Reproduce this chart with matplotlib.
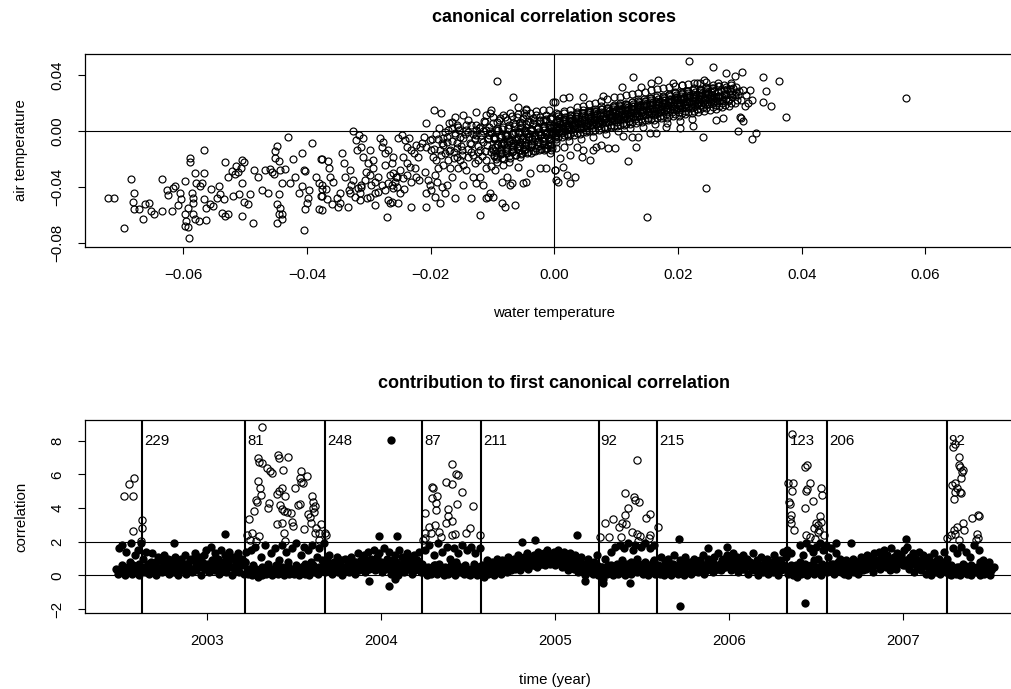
import matplotlib.pyplot as plt
import numpy as np

plt.rcParams['font.family'] = ['Liberation Sans', 'DejaVu Sans']

# canonical scores in units of 1e-4: (water temperature, air temperature)
scores_far_left = [
    (-722, -478), (-712, -478), (-696, -695), (-685, -343), (-680, -445), (-681, -505), (-680, -560),
    (-671, -555), (-662, -519), (-655, -514), (-666, -631), (-652, -572), (-647, -593),
    (-634, -343), (-634, -572), (-627, -422), (-625, -457), (-619, -572),
    (-616, -405), (-614, -393), (-608, -528), (-604, -488), (-606, -445),
    (-598, -357), (-598, -593), (-595, -645), (-592, -550), (-590, -764), (-593, -688), (-598, -681),
    (-589, -190), (-589, -219), (-581, -298), (-580, -369), (-586, -445), (-585, -512), (-584, -481),
    (-585, -595), (-581, -631), (-574, -643), (-567, -298), (-566, -133), (-564, -638), (-569, -369),
    (-573, -393), (-566, -488), (-563, -547), (-557, -524), (-555, -417),
    (-552, -535), (-546, -476), (-543, -393), (-541, -452), (-537, -583), (-533, -607), (-528, -595),
    (-535, -488), (-532, -219), (-528, -331), (-522, -288), (-519, -464), (-517, -305), (-514, -248),
    (-511, -295), (-507, -264), (-505, -205), (-502, -224),
    (-505, -369), (-510, -452), (-505, -607), (-502, -505), (-495, -521), (-487, -654), (-492, -452),
    (-485, -276), (-479, -328), (-473, -422), (-468, -276), (-463, -445), (-459, -271), (-457, -295),
    (-454, -305), (-451, -143), (-448, -107), (-451, -190), (-446, -214), (-443, -276), (-440, -369),
    (-446, -452), (-448, -524), (-443, -547), (-446, -595), (-440, -631), (-448, -655), (-440, -590),
    (-435, -271), (-430, -45), (-423, -200), (-428, -369), (-419, -328), (-413, -445), (-408, -159),
    (-405, -276), (-403, -288), (-405, -707), (-408, -393), (-403, -559), (-400, -512), (-398, -476),
    (-397, -421), (-392, -83), (-386, -328), (-381, -369), (-377, -200), (-375, -417), (-381, -559),
    (-378, -464),
]
scores_left = [
    (-376, -202), (-366, -212), (-364, -267), (-376, -385), (-369, -417), (-363, -326), (-358, -362),
    (-375, -464), (-376, -564), (-367, -488), (-359, -521), (-352, -481), (-347, -445), (-350, -540),
    (-346, -512), (-340, -231), (-343, -155), (-333, -540), (-339, -326), (-331, -278), (-328, -385),
    (-330, -445), (-326, -350), (-332, -421), (-325, 2), (-321, -64), (-319, -136), (-316, -29),
    (-309, -52), (-313, -112),
    (-309, -183), (-301, -231), (-298, -136), (-294, -207), (-293, -267), (-296, -385), (-290, -362),
    (-285, -326), (-282, -52), (-279, -112), (-277, -76), (-274, -159), (-269, -136), (-263, -231),
    (-261, -183), (-266, -314), (-261, -302), (-256, -326), (-263, -385), (-255, -397), (-250, -278),
    (-252, -52), (-247, -29), (-242, -64), (-238, -112), (-235, -52), (-231, -136), (-227, -159),
    (-223, -100), (-250, -445), (-290, -445), (-285, -433), (-279, -385), (-274, -421), (-298, -469),
    (-303, -481), (-314, -493), (-312, -397), (-290, -528), (-269, -493), (-263, -505), (-252, -517),
    (-231, -540), (-243, -417), (-234, -255), (-226, -267), (-220, -183), (-218, -112), (-244, -183),
    (-239, -231), (-271, -612), (-274, -243), (-261, -409), (-269, -374), (-255, -326), (-258, -362),
    (-245, -338), (-238, -314), (-231, -362), (-223, -326), (-219, -350), (-266, -517), (-305, -290),
    (-298, -314), (-306, -350), (-312, -385), (-317, -409), (-323, -469), (-314, -445),
    (-214, -88), (-211, -45), (-208, 60), (-207, -112), (-201, -64), (-199, -136), (-195, 150),
    (-196, -183), (-192, -207), (-188, -267), (-184, 131), (-185, -136), (-182, -88), (-180, -52),
    (-177, -159), (-174, -40), (-172, -207), (-169, -267), (-166, 67), (-165, 19), (-161, -17),
    (-158, -88), (-162, -148), (-166, -326), (-174, -385), (-177, -445), (-185, -517), (-199, -421),
    (-204, -350), (-208, -445), (-209, -290), (-201, -385), (-190, -362), (-193, -469), (-182, -397),
    (-207, -540), (-193, -314), (-161, 102), (-158, 43), (-154, 7), (-153, -40), (-150, -136),
    (-147, 114), (-142, 43), (-139, -5), (-137, -88), (-134, -148), (-139, -183), (-147, -243),
    (-142, -278), (-126, 138), (-128, -52), (-126, 7), (-120, 31), (-118, -29), (-115, -76),
    (-120, -136), (-123, -207), (-128, -231), (-131, -326), (-126, -374), (-134, -481), (-120, -326),
    (-115, -385), (-110, 114), (-112, 67), (-110, 7), (-107, -52), (-104, 126), (-103, 150),
    (-110, -207), (-110, -267), (-107, -469), (-120, -600), (-104, -445), (-161, -481), (-147, -385),
    (-153, -207), (-155, -267), (-169, -136), (-158, -183), (-172, 7), (-180, -243), (-126, -29),
    (-134, 43),
    (-198, -60), (-192, -20), (-186, 20), (-180, -100), (-176, -10), (-171, 60), (-166, -70),
    (-160, -30), (-156, 30), (-151, -110), (-147, -50), (-143, 10), (-139, 80), (-135, -90),
    (-131, -20), (-127, 40), (-123, -150), (-119, -60), (-116, 0), (-113, 70), (-109, -100),
    (-106, -30), (-105, 30), (-195, -130), (-183, -170), (-170, -140), (-163, -190), (-150, -170),
    (-140, -130), (-132, -170), (-124, -110), (-117, -180), (-112, -140), (-188, -60), (-174, -80),
    (-158, -120), (-145, -20), (-129, -60), (-121, 20), (-108, -60),
]
scores_mid = [
    (-93, 359), (-67, 245), (-58, 174), (-45, 155), (-46, 148),
    (-99, 102), (-93, 67), (-88, 90), (-83, 114), (-77, 78), (-72, 126), (-67, 55), (-61, 102),
    (-56, 67), (-50, 90), (-45, 114), (-40, 67), (-34, 90), (-29, 114), (-23, 102), (-18, 78),
    (-13, 114), (-7, 90), (-2, 209), (3, 126),
    (-102, -17), (-96, -52), (-91, 7), (-85, -88), (-80, -29), (-75, 19), (-69, -64), (-64, -5),
    (-58, -40), (-53, 31), (-48, -76), (-42, -17), (-37, 7), (-32, -52), (-26, 31), (-21, -29),
    (-16, 7), (-10, -40), (-5, 19), (1, -17),
    (-99, -136), (-92, -183), (-85, -159), (-78, -124), (-73, -219), (-68, -148), (-61, -112),
    (-56, -183), (-49, -136), (-42, -100), (-37, -159), (-30, -124), (-23, -88), (-17, -136),
    (-10, -100), (-5, -136), (2, -76),
    (-96, -278), (-83, -243), (-85, -362), (-77, -326), (-72, -385), (-84, -517), (-80, -540),
    (-64, -528), (-69, -374), (-50, -374), (-45, -362), (-40, -302), (-23, -267), (-13, -267),
    (1, -278), (3, -350), (-110, -481), (-99, -469), (-58, -255),
    (-103, -250), (-98, -180), (-101, -120), (-97, -60), (-104, 0), (-99, 60), (-102, -150),
    (-92, -220), (-88, -160), (-91, -100), (-87, -40), (-93, 20), (-89, 80), (-86, -130),
    (-82, -200), (-78, -140), (-81, -90), (-77, -30), (-83, 30), (-79, 100), (-76, -60),
    (-72, -190), (-68, -130), (-71, -70), (-67, -20), (-73, 40), (-69, 110), (-66, -100),
    (-62, -170), (-58, -110), (-61, -60), (-57, -10), (-63, 50), (-59, 120), (-56, -80),
    (-52, -160), (-48, -100), (-51, -50), (-47, 0), (-53, 60), (-49, 125), (-46, -20),
    (-42, -150), (-38, -90), (-41, -40), (-37, 10), (-43, 70), (-39, 130), (-36, -60),
    (-32, -140), (-28, -80), (-31, -30), (-27, 20), (-33, 75), (-29, 140), (-26, -10),
    (-22, -130), (-18, -70), (-21, -20), (-17, 25), (-23, 80), (-19, 150), (-16, -50),
    (-12, -120), (-8, -60), (-11, -10), (-7, 30), (-13, 85), (-9, 150), (-6, 0),
    (-94, -200), (-96, -145), (-93, -90), (-97, -40), (-95, 5),
    (-84, -191), (-86, -136), (-83, -81), (-87, -31), (-85, 14),
    (-74, -182), (-76, -127), (-73, -72), (-77, -22), (-75, 23),
    (-64, -173), (-66, -118), (-63, -63), (-67, -13), (-65, 32),
    (-54, -164), (-56, -109), (-53, -54), (-57, -4), (-55, 41),
    (-44, -155), (-46, -100), (-43, -45), (-47, 5), (-45, 50),
    (-34, -146), (-36, -91), (-33, -36), (-37, 14), (-35, 59),
    (-24, -137), (-26, -82), (-23, -27), (-27, 23), (-25, 68),
    (-14, -128), (-16, -73), (-13, -18), (-17, 32), (-15, 77),
    (-4, -119), (-6, -64), (-3, -9), (-7, 41), (-5, 86),
    (-97, -172), (-96, -112), (-98, -52), (-87, -163), (-86, -103), (-88, -43),
    (-77, -154), (-76, -94), (-78, -34), (-67, -145), (-66, -85), (-68, -25),
    (-57, -136), (-56, -76), (-58, -16), (-47, -127), (-46, -67), (-48, -7),
    (-37, -118), (-36, -58), (-38, 2), (-27, -109), (-26, -49), (-28, 11),
    (-17, -100), (-16, -40), (-18, 20), (-7, -91), (-6, -31), (-8, 29),
]
scores_core = [
    (2, -60), (-3, -20), (4, 10), (-1, 40), (5, 70), (-4, 100), (1, -40), (-2, 25),
    (12, -45), (7, -10), (14, 20), (9, 50), (15, 85), (6, 120), (11, 0), (8, 65),
    (22, -35), (17, 0), (24, 30), (19, 60), (25, 95), (16, 140), (21, 15), (18, 75), (23, -70),
    (32, -30), (27, 10), (34, 45), (29, 80), (35, 110), (26, 150), (31, 25), (28, 60),
    (42, -20), (37, 20), (44, 55), (39, 90), (45, 125), (36, 170), (41, 35), (38, 70), (43, -60),
    (52, -10), (47, 30), (54, 60), (49, 100), (55, 135), (46, 180), (51, 45), (48, 80),
    (62, 0), (57, 40), (64, 75), (59, 110), (65, 145), (56, 190), (61, 55), (58, 95), (63, -40),
    (72, 10), (67, 50), (74, 85), (69, 120), (75, 155), (66, 200), (71, 65), (68, 100),
    (82, 15), (77, 55), (84, 95), (79, 130), (85, 165), (76, 215), (81, 75), (78, 110), (83, -20),
    (92, 25), (87, 65), (94, 100), (89, 140), (95, 175), (86, 225), (91, 85), (88, 120),
    (102, 35), (97, 75), (104, 110), (99, 150), (105, 185), (96, 240), (101, 95), (98, 130), (103, 0),
    (112, 40), (107, 85), (114, 120), (109, 160), (115, 195), (106, 245), (111, 100), (108, 140),
    (122, 50), (117, 90), (124, 130), (119, 170), (125, 205), (116, 255), (121, 110), (118, 150), (123, 20),
    (132, 55), (127, 100), (134, 140), (129, 175), (135, 215), (126, 265), (131, 120), (128, 160),
    (142, 65), (137, 105), (144, 150), (139, 185), (145, 225), (136, 270), (141, 125), (138, 170), (143, 30),
    (152, 75), (147, 115), (154, 155), (149, 195), (155, 235), (146, 280), (151, 135), (148, 175),
    (162, 80), (157, 125), (164, 165), (159, 205), (165, 245), (156, 290), (161, 145), (158, 185), (163, 50),
    (172, 90), (167, 130), (174, 175), (169, 210), (175, 250), (166, 300), (171, 150), (168, 195),
    (182, 95), (177, 140), (184, 185), (179, 220), (185, 260), (176, 305), (181, 160), (178, 200), (183, 60),
    (192, 105), (187, 150), (194, 190), (189, 230), (195, 270), (186, 315), (191, 170), (188, 210),
    (202, 110), (197, 155), (204, 200), (199, 240), (205, 275), (196, 320), (201, 175), (198, 220), (203, 70),
    (212, 120), (207, 165), (214, 210), (209, 245), (215, 285), (206, 330), (211, 185), (208, 230),
    (222, 125), (217, 170), (224, 215), (219, 255), (225, 290), (216, 335), (221, 195), (218, 240), (223, 85),
    (232, 135), (227, 180), (234, 225), (229, 260), (235, 300), (226, 340), (231, 200), (228, 245),
    (242, 140), (237, 185), (244, 230), (239, 270), (245, 305), (236, 345), (241, 210), (238, 255),
    (252, 150), (247, 195), (254, 240), (249, 280), (255, 310), (246, 350), (251, 220), (248, 265),
    (262, 160), (257, 205), (264, 250), (259, 285), (265, 320), (256, 230),
    (272, 170), (267, 215), (274, 255), (269, 295), (275, 325), (266, 240),
    (282, 180), (277, 225), (284, 265), (279, 300), (285, 330),
    (292, 200), (287, 240), (294, 280), (289, 310),
    (302, 220), (297, 260), (305, 295),
    (6, -41), (3, -6), (8, 29), (4, 64), (7, 94), (2, 14), (5, 79),
    (16, -32), (13, 3), (18, 38), (14, 73), (17, 103), (12, 23), (15, 88),
    (26, -24), (23, 11), (28, 46), (24, 81), (27, 111), (22, 31), (25, 96),
    (36, -15), (33, 20), (38, 55), (34, 90), (37, 120), (32, 40), (35, 105),
    (46, -7), (43, 28), (48, 63), (44, 98), (47, 128), (42, 48), (45, 113),
    (56, 2), (53, 37), (58, 72), (54, 107), (57, 137), (52, 57), (55, 122),
    (66, 10), (63, 45), (68, 80), (64, 115), (67, 145), (62, 65), (65, 130),
    (76, 19), (73, 54), (78, 89), (74, 124), (77, 154), (72, 74), (75, 139),
    (86, 27), (83, 62), (88, 97), (84, 132), (87, 162), (82, 82), (85, 147),
    (96, 36), (93, 71), (98, 106), (94, 141), (97, 171), (92, 91), (95, 156),
    (106, 44), (103, 79), (108, 114), (104, 149), (107, 179), (102, 99), (105, 164),
    (116, 53), (113, 88), (118, 123), (114, 158), (117, 188), (112, 108), (115, 173),
    (126, 61), (123, 96), (128, 131), (124, 166), (127, 196), (122, 116), (125, 181),
    (136, 70), (133, 105), (138, 140), (134, 175), (137, 205), (132, 125), (135, 190),
    (146, 78), (143, 113), (148, 148), (144, 183), (147, 213), (142, 133), (145, 198),
    (156, 87), (153, 122), (158, 157), (154, 192), (157, 222), (152, 142), (155, 207),
    (166, 95), (163, 130), (168, 165), (164, 200), (167, 230), (162, 150), (165, 215),
    (176, 104), (173, 139), (178, 174), (174, 209), (177, 239), (172, 159), (175, 224),
    (186, 112), (183, 147), (188, 182), (184, 217), (187, 247), (182, 167), (185, 232),
    (196, 121), (193, 156), (198, 191), (194, 226), (197, 256), (192, 176), (195, 241),
    (206, 129), (203, 164), (208, 199), (204, 234), (207, 264), (202, 184), (205, 249),
    (216, 138), (213, 173), (218, 208), (214, 243), (217, 273), (212, 193), (215, 258),
    (226, 146), (223, 181), (228, 216), (224, 251), (227, 281), (222, 201), (225, 266),
    (236, 155), (233, 190), (238, 225), (234, 260), (237, 290), (232, 210), (235, 275),
    (246, 163), (243, 198), (248, 233), (244, 268), (247, 298), (242, 218), (245, 283),
    (256, 172), (253, 207), (258, 242), (254, 277), (257, 307), (252, 227), (255, 292),
    (266, 180), (263, 215), (268, 250), (264, 285), (262, 235),
    (276, 189), (273, 224), (278, 259), (274, 294), (272, 244),
    (286, 197), (283, 232), (288, 267), (284, 302),
    (296, 220), (293, 255), (298, 285),
    (1, -32), (4, 33), (6, 108), (11, -14), (14, 56), (16, 126), (21, -20), (24, 40), (26, 115),
    (31, -7), (34, 58), (36, 133), (41, 12), (44, 82), (46, 152), (51, 5), (54, 65), (56, 140),
    (61, 19), (64, 84), (66, 159), (71, 37), (74, 107), (76, 177), (81, 31), (84, 91), (86, 166),
    (91, 44), (94, 109), (96, 184), (101, 63), (104, 133), (106, 203), (111, 56), (114, 116),
    (116, 191), (121, 70), (124, 135), (126, 210), (131, 88), (134, 158), (136, 228), (141, 82),
    (144, 142), (146, 217), (151, 95), (154, 160), (156, 235), (161, 114), (164, 184), (166, 254),
    (171, 107), (174, 167), (176, 242), (181, 121), (184, 186), (186, 261), (191, 139), (194, 209),
    (196, 279), (201, 133), (204, 193), (206, 268), (211, 146), (214, 211), (216, 286), (221, 165),
    (224, 235), (226, 305), (231, 158), (234, 218), (236, 293), (241, 172), (244, 237), (246, 312),
    (251, 190), (254, 260), (256, 330), (261, 184), (264, 244), (266, 319), (271, 197), (274, 262),
    (281, 216), (284, 286),
]
scores_right = [
    (218, 500), (257, 455), (277, 417), (292, 393), (304, 424), (337, 388), (364, 360), (375, 102),
    (343, 283), (337, 207), (351, 179), (127, 383), (141, 316), (168, 364), (246, -409), (150, -617),
    (120, -214), (132, -112), (240, -40), (297, 0), (319, -60), (326, -12), (302, 90), (305, 74),
    (301, 102), (308, 179), (313, 198), (320, 221), (316, 293), (310, 257), (286, 340), (294, 317),
    (278, 312), (265, 345), (242, 364), (230, 340), (206, 328), (192, 340), (157, 345), (109, 317),
    (79, 250), (47, 245), (24, 245), (14, 233), (1, 209),
    (1, -278), (6, -362), (20, -314), (26, -369), (33, -331), (14, -255), (15, -112), (9, -195),
    (25, -171), (44, -183), (57, -207), (47, -136), (36, -112), (63, -136), (68, -112), (76, -100),
    (87, -124), (98, -124), (111, -36), (125, -45), (136, -40), (154, -17), (165, -12), (181, 26),
    (203, 19), (224, 36), (262, 78), (273, 90), (-5, -100), (-7, -159), (3, -124),
    (568, 238),
]

# contribution series: one value every third day from mid 2002
band_start = 2002.48
band_step = 3 / 365.0
band_vals = [
    0.4, 0.1, 1.6, 0.2, 1.8, 0.3, 0.0, 1.4, 0.5, 0.2, 1.9, 0.1, 0.6, 1.2, 0.3, 1.5, 0.0, 1.9, 0.3, 1.0,
    0.2, 1.4, 0.5, 0.1, 0.8, 1.3, 0.2, 0.6, 0.0, 1.1, 0.4, 0.9, 0.2, 1.2, 0.3, 0.7, 1.0, 0.1, 0.5, 0.9,
    0.2, 1.1, 0.6, 0.0, 0.8, 1.0, 0.3, 0.5, 1.2, 0.1, 0.7, 0.4, 1.0, 0.2, 0.9, 1.3, 0.3, 0.6, 1.1, 0.0,
    0.8,
    1.2, 0.4, 1.5, 0.7, 0.2, 1.7, 0.9, 0.3, 1.3, 0.6, 1.0, 0.1, 1.5, 0.8, 0.4, 1.2, 0.2, 0.9, 1.4, 0.5,
    0.0, 1.1, 0.3, 0.7, 1.3, 0.2, 0.6, 1.0, 0.1, 0.8, 1.4, 0.1, 0.3, 1.5, 0.0, 0.2, 1.7, 0.4, -0.1, 0.2,
    1.1, 0.0, 0.3, 1.8, 0.1, 0.5, 0.2, 1.3, 0.0, 0.4, 1.6, 0.2, 0.1, 0.9, 0.3, 1.8, 0.0, 0.2, 1.4, 0.5,
    0.1,
    0.3, 1.6, 0.1, 0.4, 1.9, 0.2, 0.0, 1.2, 0.5, 1.7, 0.1, 0.3, 1.5, 0.0, 0.8, 1.8, 0.2, 0.4, 1.1, 0.1,
    1.6, 0.3, 0.9, 1.9, 0.2, 1.0, 0.3, 1.2, 0.5, 0.1, 0.8, 0.4, 1.1, 0.2, 0.6, 0.9, 0.0, 0.5, 1.0, 0.3,
    0.7, 0.2, 1.1, 0.4, 0.8, 0.1, 0.6, 1.3, 0.3, 0.9, 0.5, 1.2, 0.2, 0.7, 1.4, 0.4, 1.0, 0.6, 1.5, 0.3,
    1.1,
    0.5, 1.3, 0.8, 0.2, 1.6, 0.4, 1.0, 0.6, 1.4, 0.1, 0.9, 0.3, 1.2, 0.7, 0.0, 1.5, 0.5, 1.1, 0.2, 0.8,
    1.3, 0.4, 0.6, 1.0, 0.1, 1.2, 0.3, 0.9, 0.5, 1.4, 0.2, 0.7, 0.2, 1.5, 0.0, 0.4, 1.8, 0.1, 0.3, 1.2,
    0.6, 0.1, 1.9, 0.2, 0.5, 1.4, 0.0, 0.3, 1.7, 0.1, 1.0, 0.4, 0.2, 1.6, 0.0, 0.6, 1.3, 0.2, 0.4, 1.8,
    0.1,
    0.3, 1.5, 0.1, 0.0, 1.7, 0.4, 0.2, 1.3, 0.0, 0.5, 1.6, 0.2, 0.6, -0.1, 0.4, 0.9, 0.1, 0.5, 0.2, 0.8,
    0.0, 0.6, 1.0, 0.3, 0.5, 0.1, 0.9, 0.4, 0.7, 0.2, 1.1, 0.5, 0.3, 0.8, 1.0, 0.4, 0.6, 1.2, 0.3, 0.9,
    0.5, 1.1, 0.7, 1.3, 0.4, 0.8, 1.0, 0.6, 1.2, 0.9, 0.5, 1.4, 0.7, 1.1, 0.8, 1.3, 0.6, 1.5, 1.0, 0.7,
    1.2,
    0.9, 1.4, 0.6, 1.1, 1.5, 0.8, 1.2, 0.5, 1.4, 0.9, 1.1, 0.3, 1.3, 0.7, 1.0, 0.4, 1.2, 0.6, 0.2, 0.9,
    1.1, 0.3, 0.7, 0.0, 0.5, 1.0, 0.2, 0.6, 0.1, 0.8, 0.3, 1.2, 0.0, 0.2, 0.5, -0.2, 0.3, 1.0, 0.1, 0.6,
    0.2, 1.4, 0.0, 0.4, 1.7, 0.3, 0.1, 1.8, 0.5, 0.2, 1.6, 0.0, 0.7, 1.9, 0.3, 0.1, 1.5, 0.4, 1.8, 0.2,
    0.6,
    0.3, 1.7, 0.1, 0.5, 1.9, 0.2, 0.0, 1.6, 0.4, 0.8, 1.8, 0.1, 0.3, 0.6, 0.1, 1.1, 0.3, 0.0, 0.8, 0.2,
    1.0, 0.4, 0.0, 0.7, 1.2, 0.2, 0.5, 0.1, 0.9, 0.3, 0.6, 0.0, 1.1, 0.4, 0.2, 0.8, 0.1, 0.5, 1.0, 0.3,
    0.7, 0.2, 0.9, 0.4, 1.2, 0.1, 0.6, 0.3, 1.0, 0.5, 0.8, 0.2, 1.1, 0.6, 0.4, 1.3, 0.7, 0.3, 1.0, 0.5,
    0.9,
    1.2, 0.6, 1.0, 0.3, 1.3, 0.8, 0.5, 1.1, 0.2, 0.9, 0.6, 1.2, 0.4, 0.7, 1.0, 0.1, 0.8, 0.5, 1.3, 0.3,
    0.6, 0.9, 0.0, 0.4, 1.1, 0.2, 0.7, 0.3, 1.0, 0.1, 0.5, 0.8, 0.2, 1.2, 0.4, 0.6, 0.0, 0.9, 0.3, 1.4,
    0.5, 1.1, 1.5, 0.1, 0.3, 1.3, 0.0, 0.2, 0.6, -0.1, 0.4, 1.8, 0.1, 1.2, 0.3, 1.9, 0.0, 0.5, 1.6, 0.2,
    1.4,
    0.1, 1.7, 0.3, 1.0, 1.9, 0.0, 1.5, 0.4, 1.8, 0.2, 1.1, 0.4, 1.6, 0.7, 0.1, 1.3, 0.3, 0.8, 1.0, 0.2,
    0.6, 0.1, 0.9, 0.4, 0.0, 0.7, 0.3, 1.0, 0.2, 0.5, 0.8, 0.1, 0.6, 1.1, 0.3, 0.9, 0.4, 1.2, 0.5, 0.7,
    1.0, 0.2, 1.3, 0.6, 0.9, 1.4, 0.4, 1.1, 0.8, 1.5, 0.5, 1.2, 0.9, 0.3, 1.6, 0.7, 1.1, 0.4, 1.3, 0.8,
    1.0,
    1.2, 0.6, 1.5, 0.9, 1.7, 0.4, 1.1, 0.7, 1.3, 0.2, 1.0, 0.5, 1.4, 0.8, 0.3, 1.2, 0.6, 0.1, 0.9, 1.1,
    0.4, 0.0, 0.7, 1.3, 0.2, 0.5, 1.0, 0.1, 0.8, 0.3, 1.4, 0.2, 1.0, 0.1, 0.4, 0.0, 1.6, 0.3, 0.1, 1.3,
    0.5, 0.0, 1.7, 0.2, 0.6, 1.4, 0.1, 0.3, 1.1, 0.0, 0.5, 1.8, 0.2, 0.4, 1.5, 0.0, 0.3, 0.9, 0.1, 0.6,
    0.2, 0.8, 0.0, 0.3,
]

# the days in between, one value every sixth day
mid_start = 2002.495
mid_step = 6 / 365.0
mid_vals = [
    0.3, 0.6, 0.2, 0.5, 0.8, 0.4, 0.2, 0.7, 0.3,
    0.5, 0.7, 0.4, 0.6, 0.8, 0.3, 0.5, 0.7, 0.6, 0.4, 0.8, 0.5, 0.3, 0.6, 0.7, 0.5, 0.9, 0.4, 0.6, 0.8,
    0.5, 0.7, 0.3, 0.6, 0.9, 0.5, 0.7, 0.4, 0.8, 0.6, 1.0, 0.5, 0.7, 0.9, 0.6, 0.8,
    0.4, 0.2, 0.6, 0.3, 0.1, 0.5, 0.3, 0.7, 0.2, 0.4, 0.6, 0.3, 0.5, 0.2, 0.8, 0.4, 0.3, 0.6, 0.2, 0.5,
    0.7, 0.3, 0.4, 0.6, 0.2, 0.5, 0.3, 0.7,
    0.5, 0.7, 0.4, 0.6, 0.8, 0.5, 0.3, 0.6, 0.7, 0.4, 0.8, 0.5, 0.6, 0.9, 0.4, 0.7, 0.5, 0.8, 0.6, 0.4,
    0.7, 0.9, 0.5, 0.6, 0.8, 0.4, 0.7, 0.5, 0.9, 0.6, 0.8, 0.5, 0.7, 0.6,
    0.3, 0.5, 0.2, 0.6, 0.4, 0.7, 0.3, 0.5, 0.2, 0.6, 0.4, 0.8, 0.3, 0.5, 0.6, 0.2, 0.4, 0.7, 0.3, 0.5,
    0.4, 0.6, 0.3, 0.5, 0.7, 0.4, 0.6, 0.5, 0.8, 0.4, 0.6, 0.7, 0.5, 0.9, 0.6, 0.8, 0.7, 1.0, 0.6, 0.8,
    0.9, 0.7, 1.1, 0.8, 1.0, 0.7, 0.9, 1.2, 0.8, 1.0, 0.7, 0.9, 0.6, 0.8, 0.5, 0.7, 0.4, 0.6, 0.5, 0.3,
    0.6,
    0.3, 0.5, 0.2, 0.4, 0.6, 0.3, 0.7, 0.5, 0.9, 0.4, 0.6, 0.8, 0.5, 1.0, 0.7, 0.4, 0.8, 0.6, 0.5, 0.9,
    0.4,
    0.5, 0.3, 0.6, 0.4, 0.7, 0.5, 0.3, 0.6, 0.4, 0.8, 0.5, 0.6, 0.4, 0.7, 0.5, 0.3, 0.6, 0.8, 0.5, 0.7,
    0.4, 0.6, 0.9, 0.5, 0.7, 0.6, 0.8, 0.5, 0.7, 0.4, 0.6, 0.8, 0.5, 0.7, 0.3, 0.6, 0.5, 0.8, 0.4, 0.7,
    0.6, 0.9, 0.5, 0.7, 0.4,
    0.3, 0.6, 0.2, 0.5, 0.8, 0.4, 0.7, 0.3, 0.6, 0.9, 0.5, 0.3, 0.7, 0.4,
    0.5, 0.7, 0.4, 0.6, 0.3, 0.5, 0.7, 0.4, 0.6, 0.5, 0.8, 0.4, 0.6, 0.7, 0.5, 0.9, 0.6, 0.8, 0.5, 0.7,
    1.0, 0.6, 0.8, 0.9, 0.7, 1.1, 0.8, 0.6, 0.9, 0.7, 1.0, 0.8, 0.6, 0.9, 0.7, 0.5, 0.8, 0.6, 0.9, 0.7,
    0.5, 0.8,
    0.4, 0.6, 0.2, 0.5, 0.3, 0.7, 0.4, 0.2, 0.6, 0.3, 0.5, 0.8, 0.4, 0.2, 0.6, 0.3, 0.5,
]

# filled points standing out of the band: (year, value)
spike_pts = [
    (2002.81, 1.92), (2003.103, 2.46), (2003.992, 2.36), (2004.094, 2.36), (2004.057, 8.03),
    (2003.935, -0.32), (2004.049, -0.62), (2004.083, -0.19), (2004.809, 2.0), (2004.885, 2.1),
    (2005.125, 2.4), (2005.712, 2.14), (2005.722, -1.83), (2006.441, -1.67), (2005.435, -0.48),
    (2005.176, -0.32), (2005.276, -0.48), (2007.021, 2.14), (2006.700, 1.94), (2006.619, 1.9),
    (2005.879, 1.64), (2005.990, 1.66),
]

# open circles: values above 2 inside the marked periods
open_pts = [
    (2002.523, 4.72), (2002.577, 4.72), (2002.554, 5.43), (2002.583, 5.81), (2002.575, 2.66),
    (2002.629, 3.27), (2002.629, 2.80), (2002.620, 2.05),
    (2003.318, 8.81), (2003.294, 6.96), (2003.300, 6.77), (2003.318, 6.68), (2003.347, 6.39),
    (2003.366, 6.20), (2003.376, 6.07), (2003.410, 7.16), (2003.413, 6.96), (2003.465, 7.02),
    (2003.437, 6.27), (2003.544, 6.21), (2003.534, 5.77), (2003.544, 5.58), (2003.552, 5.48),
    (2003.509, 5.22), (2003.297, 5.63), (2003.303, 5.18), (2003.312, 4.79), (2003.282, 4.48),
    (2003.291, 4.34), (2003.270, 3.83), (2003.245, 3.37), (2003.355, 4.28), (2003.351, 3.98),
    (2003.403, 4.82), (2003.416, 5.02), (2003.431, 5.18), (2003.451, 4.69), (2003.421, 4.20),
    (2003.434, 3.92), (2003.446, 3.82), (2003.459, 3.76), (2003.484, 3.72), (2003.526, 4.18),
    (2003.536, 4.22), (2003.605, 4.72), (2003.611, 4.34), (2003.622, 4.14), (2003.618, 3.79),
    (2003.583, 3.63), (2003.591, 3.49), (2003.611, 3.99), (2003.403, 3.03), (2003.441, 2.50),
    (2003.489, 3.16), (2003.498, 2.96), (2003.556, 2.74), (2003.624, 2.50), (2003.659, 3.03),
    (2003.644, 2.10), (2003.232, 2.40), (2003.261, 2.50), (2003.299, 2.36), (2003.247, 2.10),
    (2003.283, 2.04), (2003.448, 2.04), (2003.678, 2.50), (2003.686, 2.40), (2003.644, 2.50),
    (2003.575, 5.90), (2003.430, 3.10), (2003.600, 3.10), (2003.630, 2.80),
    (2004.410, 6.61), (2004.376, 5.54), (2004.410, 5.43), (2004.435, 6.00), (2004.443, 5.95),
    (2004.295, 5.28), (2004.301, 5.22), (2004.295, 4.58), (2004.324, 4.72), (2004.320, 4.30),
    (2004.318, 3.90), (2004.253, 3.69), (2004.386, 3.95), (2004.388, 3.53), (2004.407, 3.24),
    (2004.374, 3.10), (2004.440, 4.22), (2004.469, 4.94), (2004.530, 4.14), (2004.276, 2.90),
    (2004.314, 3.00), (2004.333, 2.60), (2004.286, 2.50), (2004.253, 2.50), (2004.253, 2.20),
    (2004.245, 2.10), (2004.345, 2.30), (2004.412, 2.40), (2004.488, 2.50), (2004.513, 2.84),
    (2004.570, 2.40), (2004.424, 2.45),
    (2005.470, 6.86), (2005.406, 4.92), (2005.454, 4.64), (2005.464, 4.49), (2005.483, 4.35),
    (2005.421, 4.00), (2005.406, 3.59), (2005.335, 3.35), (2005.291, 3.09), (2005.387, 3.09),
    (2005.368, 2.89), (2005.410, 3.03), (2005.550, 3.64), (2005.527, 3.39), (2005.594, 2.86),
    (2005.310, 2.30), (2005.260, 2.26), (2005.381, 2.30), (2005.444, 2.60), (2005.470, 2.44),
    (2005.492, 2.36), (2005.477, 2.06), (2005.540, 2.24), (2005.550, 2.40),
    (2006.364, 8.39), (2006.441, 6.45), (2006.450, 6.57), (2006.340, 5.48), (2006.371, 5.48),
    (2006.361, 5.02), (2006.465, 5.48), (2006.446, 5.02), (2006.450, 5.14), (2006.530, 5.22),
    (2006.534, 4.78), (2006.346, 4.34), (2006.350, 4.22), (2006.356, 3.59), (2006.352, 3.35),
    (2006.356, 3.09), (2006.375, 2.70), (2006.484, 4.42), (2006.436, 4.00), (2006.526, 3.50),
    (2006.501, 3.10), (2006.492, 2.79), (2006.520, 2.70), (2006.530, 3.16), (2006.549, 2.40),
    (2006.446, 2.40), (2006.465, 2.30), (2006.497, 2.16), (2006.511, 2.99), (2006.515, 2.60),
    (2007.303, 7.80), (2007.290, 7.62), (2007.322, 7.06), (2007.332, 6.46), (2007.322, 6.56),
    (2007.341, 6.16), (2007.345, 6.26), (2007.337, 5.77), (2007.285, 5.38), (2007.300, 5.48),
    (2007.314, 5.22), (2007.337, 4.88), (2007.329, 4.94), (2007.303, 4.94), (2007.295, 4.54),
    (2007.398, 3.39), (2007.433, 3.59), (2007.441, 3.55), (2007.345, 3.09), (2007.314, 2.90),
    (2007.295, 2.70), (2007.351, 2.70), (2007.257, 2.20), (2007.276, 2.40), (2007.303, 2.44),
    (2007.322, 2.10), (2007.427, 2.46), (2007.421, 2.10), (2007.431, 2.24),
]

# limits of the marked periods, day of year
cut_years = [2002, 2003, 2003, 2004, 2004, 2005, 2005, 2006, 2006, 2007]
cut_days = [229, 81, 248, 87, 211, 92, 215, 123, 206, 92]

W, H = 1011, 689
fig = plt.figure(figsize=(W / 100, H / 100), dpi=100)
fs = 10.8
tick_kw = dict(length=5, width=0.8, labelsize=fs, pad=10, direction='out')

def minus(s):
    return s.replace('-', '\u2212')

# ---- top: canonical correlation scores ----
ax1 = fig.add_axes([85 / W, 1 - 247 / H, 938.6 / W, 193 / H])
sc = np.array(scores_far_left + scores_left + scores_mid + scores_core + scores_right) / 1e4
ax1.plot(sc[:, 0], sc[:, 1], 'o', ms=5, mfc='none', mec='black', mew=0.85)
ax1.axhline(0, color='black', lw=0.8)
ax1.axvline(0, color='black', lw=0.8)
ax1.set_xlim(-0.0759, 0.0759)
ax1.set_ylim(-0.0829, 0.0550)
xt = [-0.06, -0.04, -0.02, 0.0, 0.02, 0.04, 0.06]
ax1.set_xticks(xt)
ax1.set_xticklabels([minus('%.2f' % v) for v in xt])
yt = [-0.08, -0.04, 0.0, 0.04]
ax1.set_yticks(yt)
ax1.set_yticklabels([minus('%.2f' % v) for v in yt])
ax1.tick_params(**tick_kw)
ax1.tick_params(axis='y', labelrotation=90)
for lbl in ax1.get_yticklabels():
    lbl.set_va('center')

# ---- bottom: contribution to first canonical correlation ----
ax2 = fig.add_axes([85 / W, 1 - 613 / H, 943 / W, 193 / H])
t = band_start + band_step * np.arange(len(band_vals))
ax2.plot(t, band_vals, 'o', ms=6, color='black', mew=0)
tm = mid_start + mid_step * np.arange(len(mid_vals))
ax2.plot(tm, mid_vals, 'o', ms=6, color='black', mew=0)
sp = np.array(spike_pts)
ax2.plot(sp[:, 0], sp[:, 1], 'o', ms=6, color='black', mew=0)
op = np.array(open_pts)
ax2.plot(op[:, 0], op[:, 1], 'o', ms=5.2, mfc='none', mec='black', mew=0.85)
ax2.axhline(0, color='black', lw=0.8)
ax2.axhline(2, color='black', lw=0.8)
for yr, d in zip(cut_years, cut_days):
    xc = yr + d / 365.0
    ax2.axvline(xc, color='black', lw=1.5)
    ax2.annotate(str(d), (xc, 8), xytext=(1.5, 0), textcoords='offset points',
                 ha='left', va='center', fontsize=fs)
ax2.set_xlim(2002.30, 2007.72)
ax2.set_ylim(-2.24, 9.24)
years = [2003, 2004, 2005, 2006, 2007]
ax2.set_xticks(years)
ax2.set_xticklabels([str(y) for y in years])
yt2 = [-2, 0, 2, 4, 6, 8]
ax2.set_yticks(yt2)
ax2.set_yticklabels([minus(str(v)) for v in yt2])
ax2.tick_params(**tick_kw)
ax2.tick_params(axis='y', labelrotation=90)
for lbl in ax2.get_yticklabels():
    lbl.set_va('center')

for ax in (ax1, ax2):
    for s in ax.spines.values():
        s.set_linewidth(0.9)

# titles and axis labels placed as in the reference
fig.text(554.5 / W, 1 - 17 / H, 'canonical correlation scores', ha='center', va='center',
         fontsize=13, fontweight='bold')
fig.text(554.5 / W, 1 - 313 / H, 'water temperature', ha='center', va='center', fontsize=fs)
fig.text(21 / W, 1 - 150.5 / H, 'air temperature', ha='center', va='center', fontsize=fs,
         rotation=90)
fig.text(554.5 / W, 1 - 383 / H, 'contribution to first canonical correlation', ha='center',
         va='center', fontsize=13, fontweight='bold')
fig.text(554.5 / W, 1 - 680 / H, 'time (year)', ha='center', va='center', fontsize=fs)
fig.text(21 / W, 1 - 516.5 / H, 'correlation', ha='center', va='center', fontsize=fs,
         rotation=90)

fig.savefig('out.png', dpi=100)
